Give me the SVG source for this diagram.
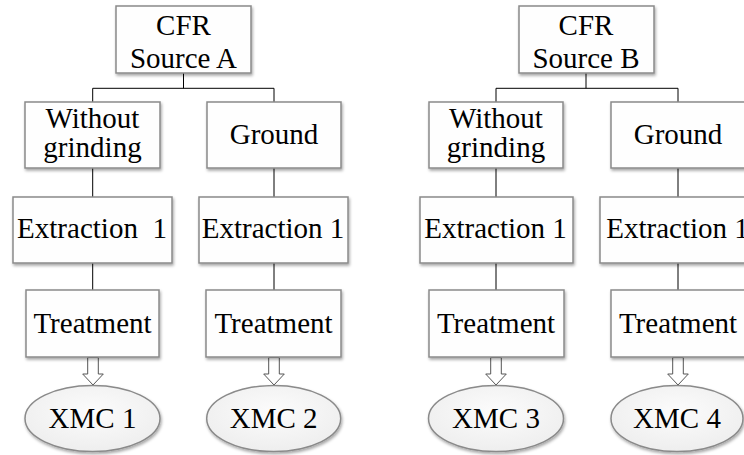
<svg xmlns="http://www.w3.org/2000/svg" width="744" height="455" viewBox="0 0 744 455">
<defs>
<filter id="sh" x="-10%" y="-10%" width="125%" height="130%">
<feDropShadow dx="1" dy="2" stdDeviation="1.5" flood-color="#000" flood-opacity="0.35"/>
</filter>
<radialGradient id="eg" cx="50%" cy="40%" r="60%">
<stop offset="0" stop-color="#fcfcfc"/>
<stop offset="1" stop-color="#eeeeee"/>
</radialGradient>
</defs>
<style>
.box{fill:#fefefe;stroke:#8a8a8a;stroke-width:1.5;filter:url(#sh)}
.ell{fill:url(#eg);stroke:#8a8a8a;stroke-width:1.5;filter:url(#sh)}
.t{font-family:"Liberation Serif","Times New Roman",serif;font-size:29px;fill:#000;text-anchor:middle;white-space:pre}
.ln{stroke:#000;stroke-width:1;fill:none}
.ar{fill:#fff;stroke:#555;stroke-width:1}
</style>
<rect width="744" height="455" fill="#fff"/>
<g id="connectors">
<path class="ln" d="M183.5,73V88.3M92.7,88.3H274M92.7,88.3V102M274,88.3V102"/>
<path class="ln" d="M92.7,168V197M92.7,263V290M274,168V197M274,263V290"/>
<path class="ln" d="M586,73V88.3M496,88.3H678M496,88.3V102M678,88.3V102"/>
<path class="ln" d="M496,168V197M496,263V290M678,168V197M678,263V290"/>
<path class="ar" d="M87.7,357.5H98.3V374H103.3L93,385L82.7,374H87.7Z"/>
<path class="ar" d="M268.7,357.5H279.3V374H284.3L274,385L263.7,374H268.7Z"/>
<path class="ar" d="M490.7,357.5H501.3V374H506.3L496,385L485.7,374H490.7Z"/>
<path class="ar" d="M672.7,357.5H683.3V374H688.3L678,385L667.7,374H672.7Z"/>
</g>
<g id="cfrA"><rect class="box" x="116" y="6" width="135" height="67"/><text class="t" x="183.5" y="35">CFR</text><text class="t" x="183.5" y="68">Source A</text></g>
<g id="wgA"><rect class="box" x="25" y="102" width="135" height="66"/><text class="t" x="92.5" y="128">Without</text><text class="t" x="92.5" y="157">grinding</text></g>
<g id="grA"><rect class="box" x="207" y="102" width="134" height="66"/><text class="t" x="274" y="144">Ground</text></g>
<g id="extA1"><rect class="box" x="13" y="197" width="159" height="66"/><text class="t" x="92" y="238">Extraction  1</text></g>
<g id="extA2"><rect class="box" x="199" y="197" width="149" height="66"/><text class="t" x="273" y="238">Extraction 1</text></g>
<g id="trA1"><rect class="box" x="26" y="290" width="133" height="67"/><text class="t" x="92.5" y="333">Treatment</text></g>
<g id="trA2"><rect class="box" x="206" y="290" width="135" height="67"/><text class="t" x="273.5" y="333">Treatment</text></g>
<g id="xmc1"><ellipse class="ell" cx="92.5" cy="418.5" rx="67.5" ry="33"/><text class="t" x="92.5" y="428">XMC 1</text></g>
<g id="xmc2"><ellipse class="ell" cx="273.7" cy="418.5" rx="67" ry="33"/><text class="t" x="273.7" y="428">XMC 2</text></g>
<g id="cfrB"><rect class="box" x="519" y="6" width="135" height="67"/><text class="t" x="586" y="35">CFR</text><text class="t" x="586" y="68">Source B</text></g>
<g id="wgB"><rect class="box" x="429" y="102" width="134" height="66"/><text class="t" x="496" y="128">Without</text><text class="t" x="496" y="157">grinding</text></g>
<g id="grB"><rect class="box" x="611" y="102" width="135" height="66"/><text class="t" x="678" y="144">Ground</text></g>
<g id="extB1"><rect class="box" x="420" y="197" width="153" height="66"/><text class="t" x="495.5" y="238">Extraction 1</text></g>
<g id="extB2"><rect class="box" x="600" y="197" width="156" height="66"/><text class="t" x="677.5" y="238">Extraction 1</text></g>
<g id="trB1"><rect class="box" x="429" y="290" width="135" height="67"/><text class="t" x="496" y="333">Treatment</text></g>
<g id="trB2"><rect class="box" x="611" y="290" width="135" height="67"/><text class="t" x="678" y="333">Treatment</text></g>
<g id="xmc3"><ellipse class="ell" cx="496" cy="418.5" rx="67.5" ry="33"/><text class="t" x="496" y="428">XMC 3</text></g>
<g id="xmc4"><ellipse class="ell" cx="677" cy="418.5" rx="66" ry="33"/><text class="t" x="677" y="428">XMC 4</text></g>
</svg>
